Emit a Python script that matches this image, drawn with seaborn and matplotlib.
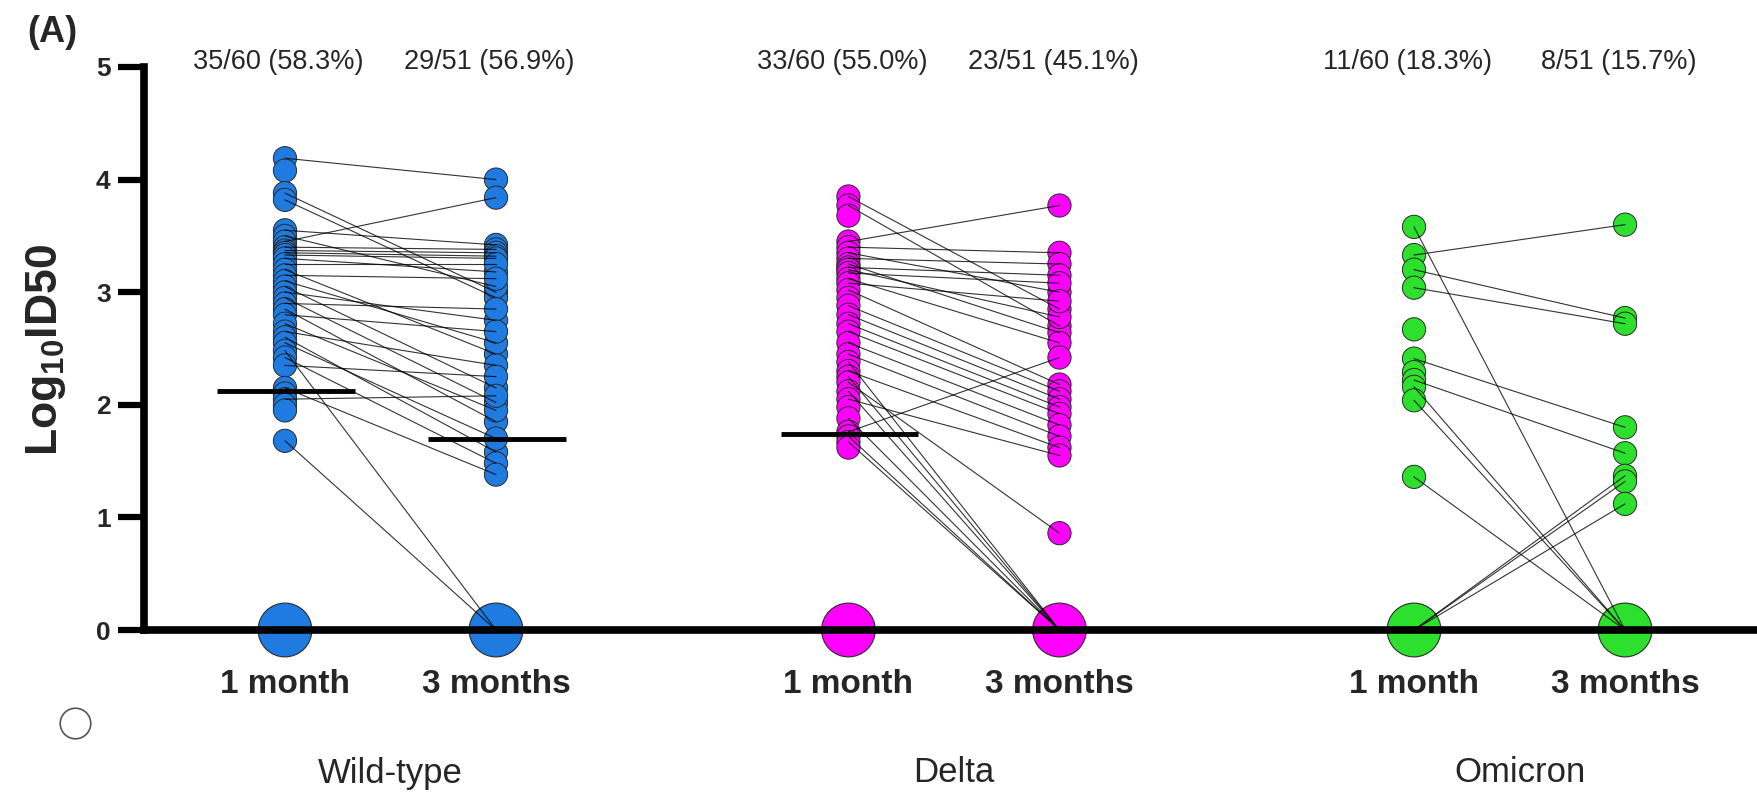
import numpy as np
import pandas as pd
import matplotlib
matplotlib.use("Agg")
import matplotlib.pyplot as plt
import matplotlib.transforms as mtransforms
import seaborn as sns

variants = ["Wild-type", "Delta", "Omicron"]
timepoints = ["1 month", "3 months"]
n_total = [60, 51]          # subjects sampled at 1 month / 3 months
colors = ["#1f7be0", "#ff00ff", "#2ee02e"]

# paired log10 ID50 of subjects with a positive titre at either visit (0 = below detection, nan = no sample)
wt_1m = [4.19, 4.08, 3.88, 3.82, 3.55, 3.50, 3.45, 3.40, 3.37, 3.35, 3.33, 3.30, 3.25, 3.20, 3.15, 3.10, 3.05, 3.00,
         2.95, 2.90, 2.85, 2.80, 2.72, 2.65, 2.60, 2.55, 2.48, 2.42, 2.35, 2.15, 2.10, 2.05, 2.00, 1.95, 1.68]
wt_3m = [4.00, np.nan, 3.00, 2.95, 3.42, 3.05, 3.84, 3.38, 3.35, 3.32, 3.30, 3.18, 3.25, 2.45, 3.12, 2.55, 2.15, 2.75,
         2.02, 2.85, 1.85, 2.65, 1.95, 2.35, 1.58, 1.70, 0, 1.48, 2.25, 1.38, np.nan, 2.08, np.nan, np.nan, 0]

de_1m = [3.85, 3.77, 3.68, 3.45, 3.40, 3.35, 3.30, 3.25, 3.22, 3.20, 3.17, 3.12, 3.08, 3.02, 2.95, 2.88, 2.80,
         2.72, 2.65, 2.55, 2.45, 2.38, 2.30, 2.25, 2.20, 2.12, 2.05, 1.98, 1.88, 1.76, 1.72, 1.67, 1.62]
de_3m = [2.85, 2.70, np.nan, 3.77, 3.35, 3.00, 3.25, 2.64, 3.15, 2.78, 3.08, 2.55, 2.92, 2.18, np.nan, 2.12, 2.05,
         1.98, 1.92, 1.82, 1.72, 0, 1.62, 0, 0.86, 0, 1.55, np.nan, 0, 2.42, 0, 0, np.nan]

om_1m = [3.58, 3.33, 3.20, 3.04, 2.67, 2.41, 2.29, 2.22, 2.16, 2.04, 1.36, 0, 0, 0]
om_3m = [0, 3.60, 2.77, 2.72, np.nan, 1.80, np.nan, 1.57, 0, 0, 0, 1.37, 1.32, 1.12]

# layout: x position of each visit column
group_x = [[0, 1], [2.67, 3.67], [5.35, 6.35]]

rows = []
for v, xs, m1, m3 in zip(variants, group_x, [wt_1m, de_1m, om_1m], [wt_3m, de_3m, om_3m]):
    for i, (a, b) in enumerate(zip(m1, m3)):
        rows.append(dict(variant=v, subject=f"{v}-{i}", time=timepoints[0], x=xs[0], value=a))
        rows.append(dict(variant=v, subject=f"{v}-{i}", time=timepoints[1], x=xs[1], value=b))
df = pd.DataFrame(rows)

sns.set_style("white")
plt.rcParams["font.family"] = ["Liberation Sans", "DejaVu Sans"]
plt.rcParams["mathtext.fontset"] = "custom"
plt.rcParams["mathtext.bf"] = "Liberation Sans:bold"
plt.rcParams["mathtext.rm"] = "Liberation Sans"

W, H = 1758, 796
fig = plt.figure(figsize=(W / 100, H / 100), dpi=100)
ax = fig.add_axes([144 / W, 1 - 630 / H, 1 - 144 / W, (630 - 67) / H])

# pair lines
complete = df.groupby("subject")["value"].transform(lambda s: s.notna().all())
sns.lineplot(data=df[complete], x="x", y="value", units="subject", estimator=None,
             color="black", lw=0.8, alpha=0.8, sort=True, ax=ax, legend=False, zorder=4)

# positive titres
pos = df[df["value"] > 0]
sns.scatterplot(data=pos, x="x", y="value", hue="variant", palette=colors, hue_order=variants,
                s=280, edgecolor="#2a2a2a", linewidth=0.7, legend=False, ax=ax, zorder=3, clip_on=False)

# undetectable titres (one large marker per column) + medians + counts
big = []
for v, xs, c in zip(variants, group_x, colors):
    sub = df[df["variant"] == v]
    for t, x, n in zip(timepoints, xs, n_total):
        vals = sub.loc[sub["time"] == t, "value"].dropna()
        k = int((vals > 0).sum())
        full = np.concatenate([vals[vals > 0].values, np.zeros(n - k)])
        big.append(dict(variant=v, x=x, value=0.0))
        ax.hlines(np.median(full), x - 0.32, x + 0.33, color="black", lw=3.5, zorder=4.5)
        ax.text(x - 0.03, 5.04, f"{k}/{n} ({100 * k / n:.1f}%)", ha="center", va="center", fontsize=19.5)
sns.scatterplot(data=pd.DataFrame(big), x="x", y="value", hue="variant", palette=colors, hue_order=variants,
                s=1500, edgecolor="#2a2a2a", linewidth=0.8, legend=False, ax=ax, zorder=3.5, clip_on=False)

ax.set_xlim(-0.668, 6.98)
ax.set_ylim(0, 5)
ax.set_yticks([0, 1, 2, 3, 4, 5])
ax.set_xticks([x for xs in group_x for x in xs])
ax.set_xticklabels(timepoints * 3, fontsize=24, fontweight="bold")
ax.tick_params(axis="x", bottom=False, length=0, pad=28)
ax.tick_params(axis="y", left=True, length=19, width=4.5, pad=5, labelsize=19, direction="out", color="black")
for lab in ax.get_yticklabels():
    lab.set_fontweight("bold")
ax.set_xlabel("")
ax.set_ylabel("")
for s in ["top", "right"]:
    ax.spines[s].set_visible(False)
for s in ["left", "bottom"]:
    ax.spines[s].set_linewidth(5.5)
    ax.spines[s].set_color("black")
    ax.spines[s].set_zorder(5)

trans = mtransforms.blended_transform_factory(ax.transData, fig.transFigure)
for v, xs in zip(variants, group_x):
    ax.text(np.mean(xs), 1 - 773 / H, v, ha="center", va="center", fontsize=25, transform=trans)

fig.text(46 / W, 1 - 350 / H, r"$\mathbf{Log_{10}ID50}$", rotation=90, ha="center", va="center", fontsize=32)
fig.text(52 / W, 1 - 32 / H, "(A)", ha="center", va="center", fontsize=26, fontweight="bold")
ax.plot([75 / W], [1 - 723 / H], "o", ms=22, mfc="white", mec="#555555", mew=1.2,
        transform=fig.transFigure, clip_on=False)

fig.savefig("out.png", dpi=100)
